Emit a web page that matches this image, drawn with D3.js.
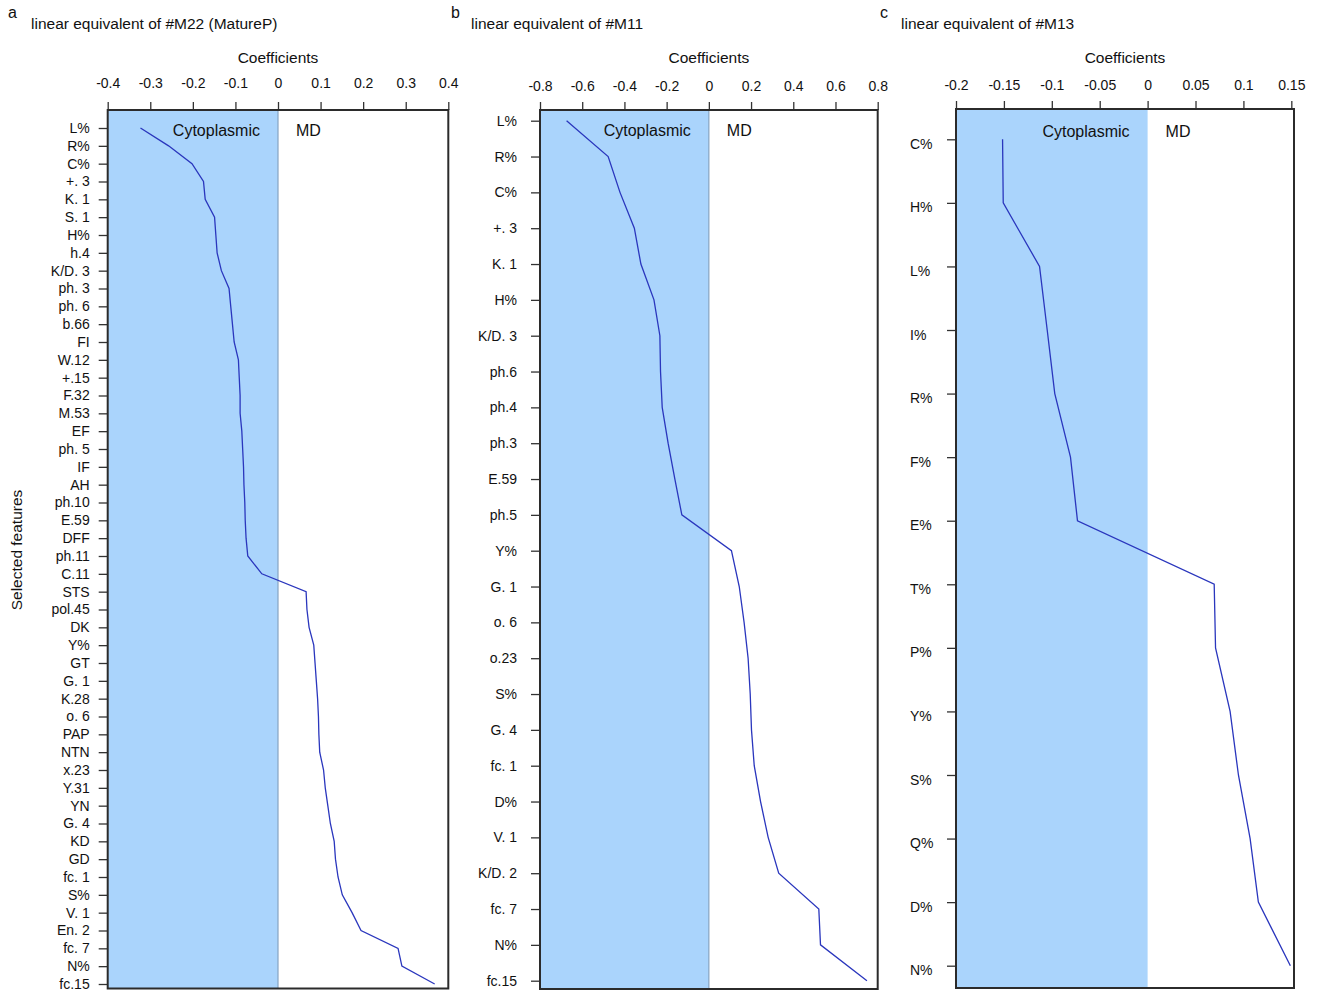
<!DOCTYPE html>
<html>
<head>
<meta charset="utf-8">
<script src="https://cdn.jsdelivr.net/npm/d3@7"></script>
<style>
  body { margin: 0; background: #fff; }
  svg text { font-family: "Liberation Sans", Arial, sans-serif; fill: #111; }
</style>
</head>
<body>
<script>
// panel a: linear equivalent of #M22 (MatureP)
var featuresA = ["L%", "R%", "C%", "+. 3", "K. 1", "S. 1", "H%", "h.4", "K/D. 3", "ph. 3", "ph. 6", "b.66", "FI",
  "W.12", "+.15", "F.32", "M.53", "EF", "ph. 5", "IF", "AH", "ph.10", "E.59", "DFF", "ph.11", "C.11", "STS",
  "pol.45", "DK", "Y%", "GT", "G. 1", "K.28", "o. 6", "PAP", "NTN", "x.23", "Y.31", "YN", "G. 4", "KD", "GD",
  "fc. 1", "S%", "V. 1", "En. 2", "fc. 7", "N%", "fc.15"]
var coefA = [-0.323, -0.257, -0.202, -0.175, -0.171, -0.149, -0.146, -0.143, -0.133, -0.115, -0.111, -0.107, -0.103,
  -0.093, -0.091, -0.089, -0.089, -0.085, -0.083, -0.081, -0.080, -0.078, -0.077, -0.075, -0.071, -0.038, 0.066,
  0.068, 0.073, 0.084, 0.087, 0.090, 0.093, 0.095, 0.096, 0.098, 0.107, 0.111, 0.117, 0.123, 0.132, 0.135,
  0.141, 0.151, 0.174, 0.195, 0.282, 0.291, 0.368]
var ticksA = [-0.4, -0.3, -0.2, -0.1, 0, 0.1, 0.2, 0.3, 0.4]

// panel b: linear equivalent of #M11
var featuresB = ["L%", "R%", "C%", "+. 3", "K. 1", "H%", "K/D. 3", "ph.6", "ph.4", "ph.3", "E.59", "ph.5",
  "Y%", "G. 1", "o. 6", "o.23", "S%", "G. 4", "fc. 1", "D%", "V. 1", "K/D. 2", "fc. 7", "N%", "fc.15"]
var coefB = [-0.674, -0.477, -0.421, -0.353, -0.322, -0.260, -0.232, -0.229, -0.221, -0.193, -0.161, -0.128,
  0.107, 0.144, 0.167, 0.186, 0.196, 0.202, 0.215, 0.245, 0.281, 0.331, 0.521, 0.529, 0.749]
var ticksB = [-0.8, -0.6, -0.4, -0.2, 0, 0.2, 0.4, 0.6, 0.8]

// panel c: linear equivalent of #M13
var featuresC = ["C%", "H%", "L%", "I%", "R%", "F%", "E%", "T%", "P%", "Y%", "S%", "Q%", "D%", "N%"]
var coefC = [-0.1514, -0.1507, -0.1128, -0.1048, -0.0969, -0.0805, -0.0732,
  0.0695, 0.0709, 0.0861, 0.0948, 0.107, 0.1156, 0.149]
var ticksC = [-0.2, -0.15, -0.1, -0.05, 0, 0.05, 0.1, 0.15]

var svg = d3.select("body").append("svg")
    .attr("width", 1322)
    .attr("height", 994)

var panels = [
  {letter: "a", title: "linear equivalent of #M22 (MatureP)", feats: featuresA, coefs: coefA, ticks: ticksA,
   domain: [-0.4, 0.4], left: 107.7, right: 448.3, top: 110, bottom: 988.5, yFirst: 128, yLast: 984,
   letterX: 8, titleX: 31, tickLabelY: 88, labelAlign: "end", labelPad: 9, zeroLine: true, textY: 136},
  {letter: "b", title: "linear equivalent of #M11", feats: featuresB, coefs: coefB, ticks: ticksB,
   domain: [-0.8, 0.8], left: 540, right: 877.7, top: 110, bottom: 989, yFirst: 120.7, yLast: 980.7,
   letterX: 451, titleX: 471, tickLabelY: 91, labelAlign: "end", labelPad: 14, zeroLine: true, textY: 135.5},
  {letter: "c", title: "linear equivalent of #M13", feats: featuresC, coefs: coefC, ticks: ticksC,
   domain: [-0.2, 0.1528], left: 956, right: 1294, top: 109, bottom: 988, yFirst: 139.3, yLast: 965.7,
   letterX: 880, titleX: 901, tickLabelY: 90, labelAlign: "start", labelPad: 0, zeroLine: false, textY: 137}
]

function drawPanel(p) {
  var g = svg.append("g")

  var x = d3.scaleLinear().domain(p.domain).range([p.left, p.right])
  var y = d3.scalePoint().domain(p.feats).range([p.yFirst, p.yLast])

  // panel letter + title
  g.append("text").attr("x", p.letterX).attr("y", 18).style("font-size", "16px").text(p.letter)
  g.append("text").attr("x", p.titleX).attr("y", 29).style("font-size", "15.5px").text(p.title)

  // shaded negative (cytoplasmic) side
  g.append("rect")
    .attr("x", p.left).attr("y", p.top)
    .attr("width", x(0) - p.left).attr("height", p.bottom - p.top)
    .style("fill", "#aad4fc")
  if (p.zeroLine) {
    g.append("line")
      .attr("x1", x(0)).attr("x2", x(0)).attr("y1", p.top).attr("y2", p.bottom)
      .style("stroke", "#86a3c2").style("stroke-width", 1.2)
  }

  g.append("text").attr("x", x(0) - 18).attr("y", p.textY)
    .attr("text-anchor", "end").style("font-size", "16px").text("Cytoplasmic")
  g.append("text").attr("x", x(0) + 18).attr("y", p.textY)
    .attr("text-anchor", "start").style("font-size", "16px").text("MD")

  // top axis (plain hyphen minus like the original)
  var xAxis = g.append("g")
    .attr("transform", "translate(0," + p.top + ")")
    .call(d3.axisTop(x).tickValues(p.ticks).tickSize(8).tickFormat(function(d) { return String(d) }))
  xAxis.select(".domain").remove()
  xAxis.selectAll("line").style("stroke", "#333").style("stroke-width", 1.3)
  xAxis.selectAll("text").attr("y", null).attr("dy", null)
    .attr("transform", "translate(0," + (p.tickLabelY - p.top) + ")")
    .style("font-size", "14px").style("fill", "#111")

  g.append("text").attr("x", (p.left + p.right) / 2).attr("y", 63)
    .attr("text-anchor", "middle").style("font-size", "15.5px").text("Coefficients")

  // left axis
  var yAxis = g.append("g")
    .attr("transform", "translate(" + p.left + ",0)")
    .call(d3.axisLeft(y).tickSize(9))
  yAxis.select(".domain").remove()
  yAxis.selectAll("line").style("stroke", "#333").style("stroke-width", 1.3)
  if (p.labelAlign == "start") {
    yAxis.selectAll("text").attr("text-anchor", "start").attr("x", -46).attr("dy", "0.65em")
  } else {
    yAxis.selectAll("text").attr("x", -9 - p.labelPad)
  }
  yAxis.selectAll("text").style("font-size", "14px").style("fill", "#111")

  // coefficient line
  var line = d3.line()
    .x(function(d, i) { return x(p.coefs[i]) })
    .y(function(d) { return y(d) })
  g.append("path")
    .datum(p.feats)
    .attr("d", line)
    .style("fill", "none")
    .style("stroke", "#2a36bd")
    .style("stroke-width", 1.3)

  // frame
  g.append("rect")
    .attr("x", p.left).attr("y", p.top)
    .attr("width", p.right - p.left).attr("height", p.bottom - p.top)
    .style("fill", "none").style("stroke", "#2b2b2b").style("stroke-width", 2)
}

panels.forEach(drawPanel)

svg.append("text")
  .attr("transform", "translate(22,550) rotate(-90)")
  .attr("text-anchor", "middle")
  .style("font-size", "15.5px")
  .text("Selected features")
</script>
</body>
</html>
